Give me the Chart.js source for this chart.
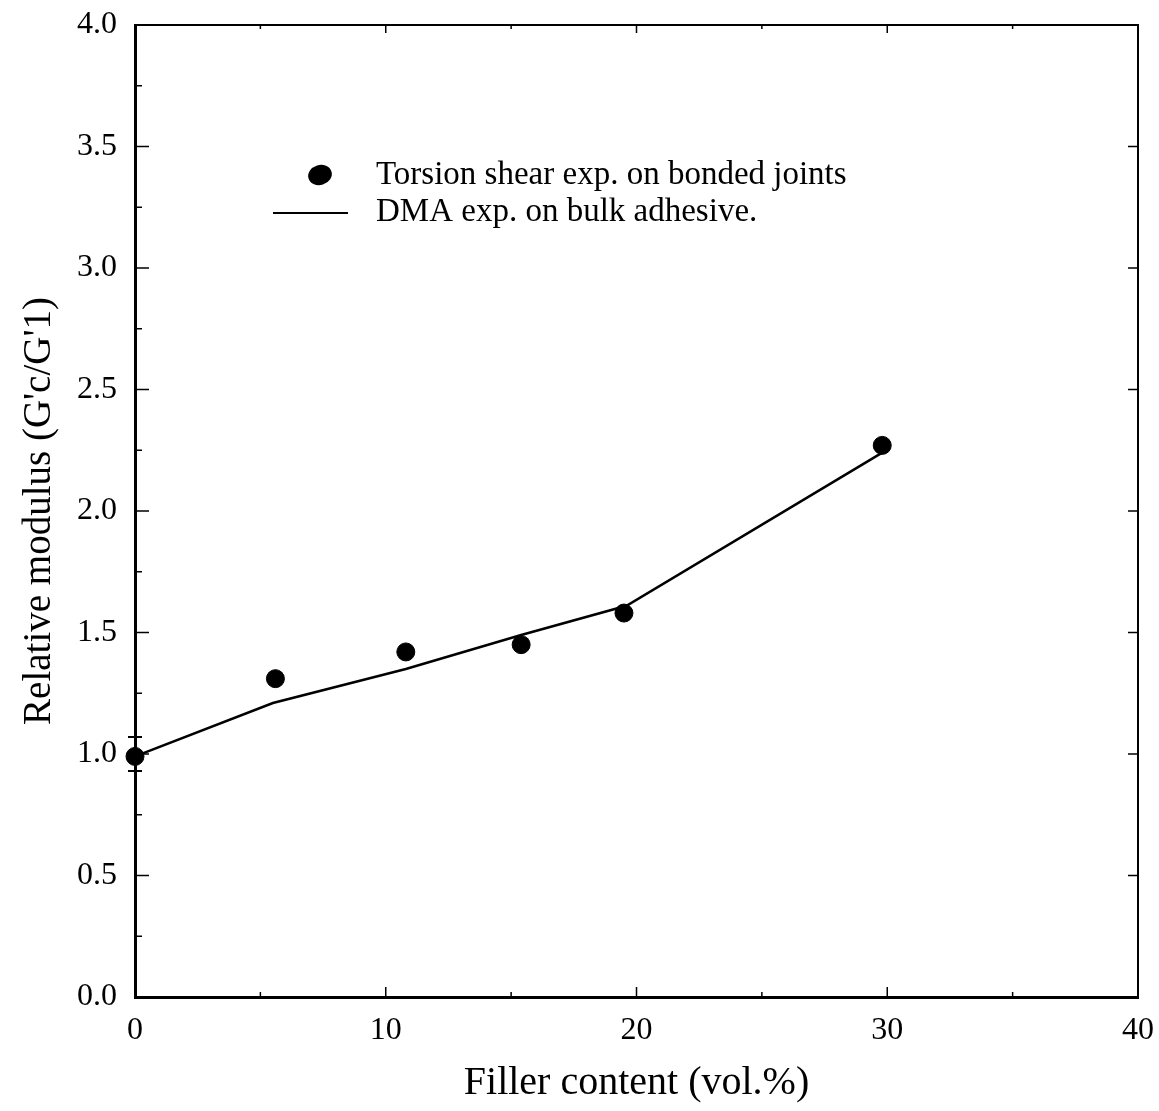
<!DOCTYPE html>
<html>
<head>
<meta charset="utf-8">
<script src="https://cdn.jsdelivr.net/npm/chart.js@4.4.1/dist/chart.umd.min.js"></script>
<style>
  html, body { margin: 0; padding: 0; background: #fff; }
  #wrap { width: 1159px; height: 1111px; position: relative; }
</style>
</head>
<body>
<div id="wrap"><canvas id="chart" width="1159" height="1111"></canvas></div>
<script>
// torsion shear points (bonded joints)
const torsionX = [0, 5.6, 10.8, 15.4, 19.5, 29.8];
const torsionY = [0.99, 1.31, 1.42, 1.45, 1.58, 2.27];

// DMA curve (bulk adhesive)
const dmaX = [0, 5.5, 10.8, 15.4, 19.6, 29.8];
const dmaY = [0.99, 1.21, 1.35, 1.49, 1.61, 2.24];

// error bar on the unfilled sample
const errX = [0, 0];
const errY = [0.93, 1.07];

const xTicks = [0, 10, 20, 30, 40];
const xMinor = [5, 15, 25, 35];
const yTicks = [0, 0.5, 1, 1.5, 2, 2.5, 3, 3.5, 4];
const yMinor = [0.25, 0.75, 1.25, 1.75, 2.25, 2.75, 3.25, 3.75];

const legendLabels = ['Torsion shear exp. on bonded joints', 'DMA exp. on bulk adhesive.'];

const serif = '"Liberation Serif", "DejaVu Serif", serif';

const toXY = (xs, ys) => xs.map((x, i) => ({x: x, y: ys[i]}));

// frame + inward ticks + legend
const framePlugin = {
  id: 'frame',
  afterDraw(chart) {
    const ctx = chart.ctx, a = chart.chartArea;
    const xs = chart.scales.x, ys = chart.scales.y;
    ctx.save();
    ctx.strokeStyle = '#000';
    // top & right edges
    ctx.lineWidth = 2;
    ctx.beginPath();
    ctx.moveTo(a.left, a.top); ctx.lineTo(a.right, a.top); ctx.lineTo(a.right, a.bottom);
    ctx.stroke();
    ctx.lineWidth = 1.5;
    ctx.beginPath();
    xTicks.slice(1, -1).forEach(v => {
      const p = xs.getPixelForValue(v);
      ctx.moveTo(p, a.bottom); ctx.lineTo(p, a.bottom - 10);
      ctx.moveTo(p, a.top); ctx.lineTo(p, a.top + 8);
    });
    xMinor.forEach(v => {
      const p = xs.getPixelForValue(v);
      ctx.moveTo(p, a.bottom); ctx.lineTo(p, a.bottom - 5);
      ctx.moveTo(p, a.top); ctx.lineTo(p, a.top + 4);
    });
    yTicks.slice(1, -1).forEach(v => {
      const p = ys.getPixelForValue(v);
      ctx.moveTo(a.left, p); ctx.lineTo(a.left + 14, p);
      ctx.moveTo(a.right, p); ctx.lineTo(a.right - 10, p);
    });
    yMinor.forEach(v => {
      const p = ys.getPixelForValue(v);
      ctx.moveTo(a.left, p); ctx.lineTo(a.left + 7, p);
    });
    ctx.stroke();

    // legend
    const lx = a.left, ly = a.top;
    ctx.fillStyle = '#000';
    ctx.beginPath();
    ctx.ellipse(lx + 185, ly + 150, 12, 10, -0.3, 0, Math.PI * 2);
    ctx.fill();
    ctx.lineWidth = 2;
    ctx.beginPath();
    ctx.moveTo(lx + 138, ly + 188); ctx.lineTo(lx + 213, ly + 188);
    ctx.stroke();
    ctx.font = '33px ' + serif;
    ctx.textBaseline = 'middle';
    ctx.textAlign = 'left';
    ctx.fillText(legendLabels[0], lx + 241, ly + 150);
    ctx.fillText(legendLabels[1], lx + 241, ly + 187);
    ctx.restore();
  }
};

new Chart(document.getElementById('chart'), {
  type: 'scatter',
  data: {
    datasets: [
      {
        label: legendLabels[1],
        data: toXY(dmaX, dmaY),
        showLine: true,
        borderColor: '#000',
        borderWidth: 2.5,
        pointRadius: 0,
        tension: 0,
        clip: false
      },
      {
        label: legendLabels[0],
        data: toXY(torsionX, torsionY),
        showLine: false,
        pointRadius: 9,
        pointBackgroundColor: '#000',
        pointBorderColor: '#000',
        clip: false
      },
      {
        label: 'error',
        data: toXY(errX, errY),
        showLine: true,
        borderColor: '#000',
        borderWidth: 2,
        pointStyle: 'line',
        pointRadius: 7,
        pointBorderWidth: 2,
        pointBorderColor: '#000',
        clip: false
      }
    ]
  },
  options: {
    responsive: false,
    animation: false,
    layout: { padding: { top: 25, right: 21, left: 0, bottom: 0 } },
    plugins: { legend: { display: false }, tooltip: { enabled: false } },
    scales: {
      x: {
        type: 'linear',
        min: 0, max: 40,
        afterFit: s => { s.height = 114; s.paddingLeft = 0; s.paddingRight = 0; },
        afterBuildTicks: s => { s.ticks = xTicks.map(v => ({value: v})); },
        grid: { display: false, drawTicks: false },
        border: { display: true, color: '#000', width: 3 },
        ticks: {
          color: '#000',
          padding: 14,
          font: { family: serif, size: 32 },
          callback: v => String(v)
        },
        title: {
          display: true,
          text: 'Filler content (vol.%)',
          color: '#000',
          font: { family: serif, size: 40 },
          padding: { top: 0, bottom: 4 }
        }
      },
      y: {
        type: 'linear',
        min: 0, max: 4,
        afterFit: s => { s.width = 135; s.paddingTop = 0; s.paddingBottom = 0; },
        afterBuildTicks: s => { s.ticks = yTicks.map(v => ({value: v})); },
        grid: { display: false, drawTicks: false },
        border: { display: true, color: '#000', width: 3 },
        ticks: {
          color: '#000',
          padding: 18,
          font: { family: serif, size: 32 },
          callback: v => v.toFixed(1)
        },
        title: {
          display: true,
          text: "Relative modulus (G'c/G'1)",
          color: '#000',
          font: { family: serif, size: 39 },
          padding: { top: 16, bottom: 0 }
        }
      }
    }
  },
  plugins: [framePlugin]
});
</script>
</body>
</html>
